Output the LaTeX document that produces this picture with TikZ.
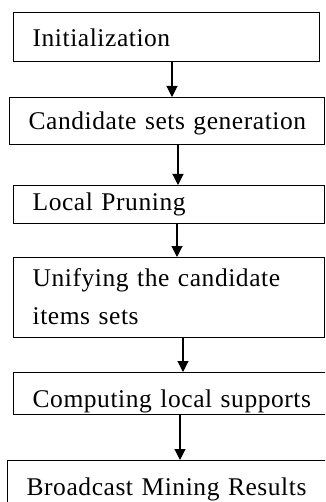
\documentclass[tikz,border=0pt]{standalone}
\usepackage{fontspec}
\setmainfont{Liberation Serif}[LetterSpace=2.2]
\usetikzlibrary{arrows.meta}
\begin{document}
\begin{tikzpicture}[x=1pt,y=-1pt,
  box/.style={draw=black,line width=1.3pt,rectangle,anchor=north west,inner ysep=0pt,
    inner xsep=19pt,align=left,font=\fontsize{25.5}{38}\selectfont},
  arr/.style={line width=1.1pt,-{Triangle[width=11pt,length=11pt]}}]
\useasboundingbox (0,0) rectangle (325,502);
\clip (0,0) rectangle (325,502);
\fill[white] (0,0) rectangle (325,502);
\node[box,minimum width=306pt,text width=268pt,text height=34pt,text depth=15pt] (b1) at (13,12) {Initialization};
\node[box,minimum width=315pt,text width=277pt,text height=32pt,text depth=15pt] (b2) at (9,97) {Candidate sets generation};
\node[box,minimum width=311pt,text width=273pt,text height=25pt,text depth=13pt] (b3) at (13,185) {Local Pruning};
\node[box,minimum width=311pt,text width=273pt,text height=29pt,text depth=51pt] (b4) at (13,257) {Unifying the candidate\\items sets};
\node[box,minimum width=330pt,text width=292pt,text height=35pt,text depth=7pt] (b5) at (13,372) {Computing local supports};
\node[box,minimum width=330pt,text width=292pt,text height=35pt,text depth=25pt] (b6) at (7,460) {Broadcast Mining Results};
\coordinate (c1) at (172,0);
\coordinate (c2) at (178,0);
\coordinate (c3) at (177,0);
\coordinate (c4) at (183,0);
\coordinate (c5) at (180,0);
\draw[arr] (b1.south -| c1) -- (b2.north -| c1);
\draw[arr] (b2.south -| c2) -- (b3.north -| c2);
\draw[arr] (b3.south -| c3) -- (b4.north -| c3);
\draw[arr] (b4.south -| c4) -- (b5.north -| c4);
\draw[arr] (b5.south -| c5) -- (b6.north -| c5);
\end{tikzpicture}
\end{document}
